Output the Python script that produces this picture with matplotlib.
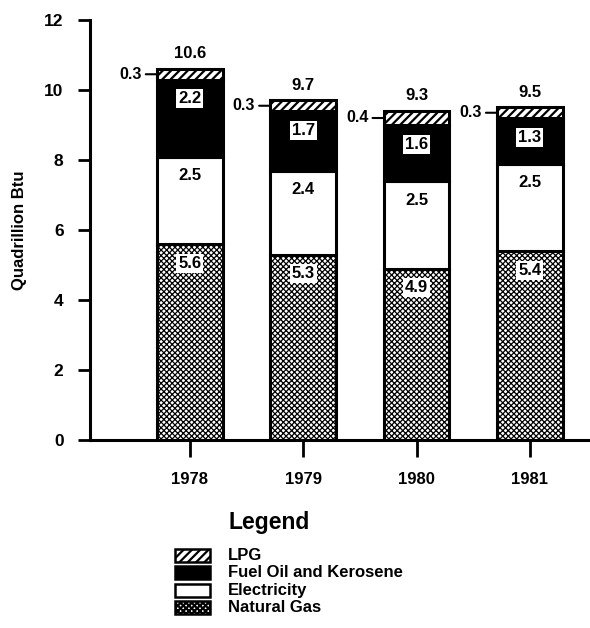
import matplotlib
matplotlib.use('Agg')
import matplotlib.pyplot as plt
from matplotlib.patches import Rectangle
import numpy as np

plt.rcParams['font.family'] = ['Liberation Sans', 'DejaVu Sans']
plt.rcParams['font.weight'] = 'bold'
plt.rcParams['axes.labelweight'] = 'bold'

years = ['1978', '1979', '1980', '1981']
natural_gas = [5.6, 5.3, 4.9, 5.4]
electricity = [2.5, 2.4, 2.5, 2.5]
fuel_oil = [2.2, 1.7, 1.6, 1.3]
lpg = [0.3, 0.3, 0.4, 0.3]
totals = ['10.6', '9.7', '9.3', '9.5']

legend_labels = ['LPG', 'Fuel Oil and Kerosene', 'Electricity', 'Natural Gas']

x = np.arange(len(years))
w = 0.58
W, H = 590, 628

fig = plt.figure(figsize=(5.9, 6.28), dpi=100)
ax = fig.add_axes([90 / W, 1 - 440 / H, 500 / W, 420 / H])

ng = np.array(natural_gas)
el = np.array(electricity)
fo = np.array(fuel_oil)
lp = np.array(lpg)

plt.rcParams['hatch.linewidth'] = 0.9
ax.bar(x, ng, w, color='white', edgecolor='black', hatch='xxxxxx', linewidth=2.2)
ax.bar(x, el, w, bottom=ng, color='white', edgecolor='black', linewidth=2.2)
ax.bar(x, fo, w, bottom=ng + el, color='black', edgecolor='black', linewidth=2.2)
plt.rcParams['hatch.linewidth'] = 1.6
ax.bar(x, lp, w, bottom=ng + el + fo, color='white', edgecolor='black', hatch='////', linewidth=2.2)

box = dict(boxstyle='square,pad=0.12', fc='white', ec='none')
for i in range(len(years)):
    ax.text(x[i], ng[i] - 0.55, f'{ng[i]:.1f}', ha='center', va='center', fontsize=12, bbox=box)
    ax.text(x[i], ng[i] + el[i] - 0.55, f'{el[i]:.1f}', ha='center', va='center', fontsize=12)
    ax.text(x[i], ng[i] + el[i] + fo[i] - 0.55, f'{fo[i]:.1f}', ha='center', va='center', fontsize=12, bbox=box)
    top = ng[i] + el[i] + fo[i] + lp[i]
    ax.annotate(f'{lp[i]:.1f}', xy=(x[i] - w / 2, top - lp[i] / 2),
                xytext=(-11, 0), textcoords='offset points', ha='right', va='center', fontsize=11.5,
                arrowprops=dict(arrowstyle='-', lw=1.5, shrinkA=1, shrinkB=0))
    ax.text(x[i], top + 0.22, totals[i], ha='center', va='bottom', fontsize=12)

ax.set_xlim(-0.88, 3.53)
ax.set_ylim(0, 12)
ax.set_yticks(range(0, 13, 2))
ax.set_xticks(x)
ax.set_xticklabels(years)
ax.tick_params(axis='y', length=9, width=2, labelsize=12.5, pad=10)
ax.tick_params(axis='x', length=12, width=2, labelsize=12, pad=11)
for s in ['top', 'right']:
    ax.spines[s].set_visible(False)
for s in ['left', 'bottom']:
    ax.spines[s].set_linewidth(2.2)
ax.set_ylabel('Quadrillion Btu', fontsize=12, labelpad=12)

# legend drawn by hand, like the printed key
fig.text(228 / W, 1 - 522 / H, 'Legend', fontsize=16.5, ha='left', va='center')
styles = [
    dict(facecolor='white', hatch='////'),
    dict(facecolor='black'),
    dict(facecolor='white'),
    dict(facecolor='white', hatch='xxxxxx'),
]
for k, (lab, st) in enumerate(zip(legend_labels, styles)):
    yc = 555 + k * 17.5
    fig.patches.append(Rectangle((175 / W, 1 - (yc + 6.5) / H), 35 / W, 13 / H,
                                 transform=fig.transFigure, edgecolor='black', lw=1.8, **st))
    fig.text(228 / W, 1 - yc / H, lab, fontsize=12, ha='left', va='center')

fig.savefig('out.png', dpi=100)
